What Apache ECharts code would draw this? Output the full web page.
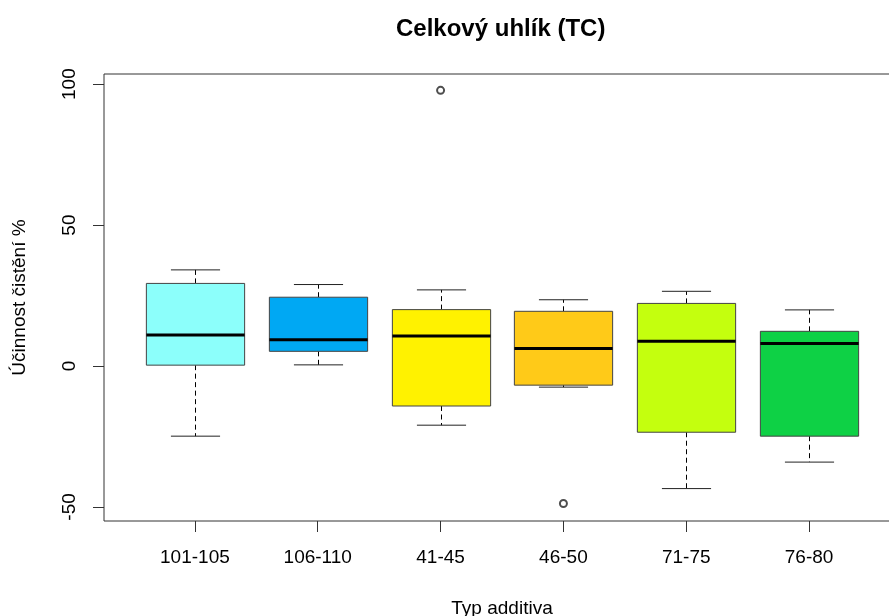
<!DOCTYPE html>
<html>
<head>
<meta charset="utf-8">
<script src="https://cdn.jsdelivr.net/npm/echarts@6/dist/echarts.min.js"></script>
<style>
html,body{margin:0;padding:0;background:#fff;}
#chart{width:889px;height:616px;}
</style>
</head>
<body>
<div id="chart"></div>
<script>
const categories = ['101-105', '106-110', '41-45', '46-50', '71-75', '76-80'];
const whiskerLow  = [-24.9, 0.4, -21.0, -7.5, -43.5, -34.1];
const q1          = [0.3, 5.2, -14.2, -6.8, -23.5, -24.9];
const median      = [11.0, 9.3, 10.6, 6.2, 8.8, 8.0];
const q3          = [29.3, 24.4, 20.0, 19.4, 22.2, 12.3];
const whiskerHigh = [34.1, 28.9, 27.0, 23.5, 26.5, 19.9];
const outlierCategory = ['41-45', '46-50'];
const outlierValue = [97.8, -48.8];
const boxColors = ['#8CFFFB', '#00A8F3', '#FFF200', '#FFCA18', '#C4FF0E', '#0ED145'];
const yTicks = [-50, 0, 50, 100];

const FONT = "'Liberation Sans', Arial, sans-serif";
const xTicks = categories.map((c, i) => i + 1);

const boxData = categories.map((c, i) => [i + 1, whiskerLow[i], q1[i], median[i], q3[i], whiskerHigh[i]]);
const outlierData = outlierCategory.map((c, i) => [categories.indexOf(c) + 1, outlierValue[i]]);

function renderBox(params, api) {
  const x = api.value(0);
  const idx = params.dataIndex;
  const pLo = api.coord([x, api.value(1)]);
  const pQ1 = api.coord([x, api.value(2)]);
  const pMed = api.coord([x, api.value(3)]);
  const pQ3 = api.coord([x, api.value(4)]);
  const pHi = api.coord([x, api.value(5)]);
  const half = api.size([0.8, 0])[0] / 2;
  const cap = api.size([0.4, 0])[0] / 2;
  const cx = Math.round(pMed[0]) + 0.5;
  const dash = {stroke: '#000', lineWidth: 1, lineDash: [5, 3.5]};
  const solid = {stroke: '#222', lineWidth: 1};
  return {
    type: 'group',
    children: [
      {type: 'line', shape: {x1: cx, y1: pQ3[1], x2: cx, y2: pHi[1]}, style: dash},
      {type: 'line', shape: {x1: cx, y1: pQ1[1], x2: cx, y2: pLo[1]}, style: dash},
      {type: 'line', shape: {x1: cx - cap, y1: pHi[1], x2: cx + cap, y2: pHi[1]}, style: solid},
      {type: 'line', shape: {x1: cx - cap, y1: pLo[1], x2: cx + cap, y2: pLo[1]}, style: solid},
      {type: 'rect', shape: {x: cx - half, y: pQ3[1], width: 2 * half, height: pQ1[1] - pQ3[1]},
        style: {fill: boxColors[idx], stroke: '#444', lineWidth: 1}},
      {type: 'line', shape: {x1: cx - half, y1: pMed[1], x2: cx + half, y2: pMed[1]},
        style: {stroke: '#000', lineWidth: 3}}
    ]
  };
}

const chart = echarts.init(document.getElementById('chart'), null, {renderer: 'canvas'});
chart.setOption({
  animation: false,
  backgroundColor: '#fff',
  title: {
    text: 'Celkový uhlík (TC)',
    left: 391, top: 12,
    textStyle: {fontFamily: FONT, fontSize: 24, fontWeight: 'bold', color: '#000'}
  },
  grid: {
    show: true, left: 104, top: 74, width: 796, height: 447,
    borderColor: '#333', borderWidth: 1, containLabel: false,
    outerBoundsMode: 'none'
  },
  xAxis: {
    type: 'value', min: 0.26, max: 6.74, position: 'bottom',
    axisLine: {show: false, onZero: false},
    splitLine: {show: false},
    axisTick: {show: true, length: 11, customValues: xTicks, lineStyle: {color: '#333'}},
    axisLabel: {
      customValues: xTicks, margin: 27, fontSize: 19, fontFamily: FONT, color: '#000',
      formatter: v => categories[Math.round(v) - 1]
    },
    name: 'Typ additiva', nameLocation: 'middle', nameGap: 78,
    nameTextStyle: {fontFamily: FONT, fontSize: 19, color: '#000'}
  },
  yAxis: {
    type: 'value', min: -55, max: 103.6,
    axisLine: {show: false, onZero: false},
    splitLine: {show: false},
    axisTick: {show: true, length: 11, customValues: yTicks, lineStyle: {color: '#333'}},
    axisLabel: {
      customValues: yTicks, rotate: 90, margin: 25, fontSize: 19, fontFamily: FONT, color: '#000'
    },
    name: 'Účinnost čistění %', nameLocation: 'middle', nameGap: 75, nameRotate: 90,
    nameTextStyle: {fontFamily: FONT, fontSize: 19, color: '#000'}
  },
  series: [
    {
      type: 'custom',
      renderItem: renderBox,
      encode: {x: 0, y: [1, 2, 3, 4, 5]},
      data: boxData,
      clip: false
    },
    {
      type: 'scatter',
      symbol: 'emptyCircle',
      symbolSize: 7,
      itemStyle: {color: '#222', borderWidth: 1},
      data: outlierData
    }
  ]
});
</script>
</body>
</html>
